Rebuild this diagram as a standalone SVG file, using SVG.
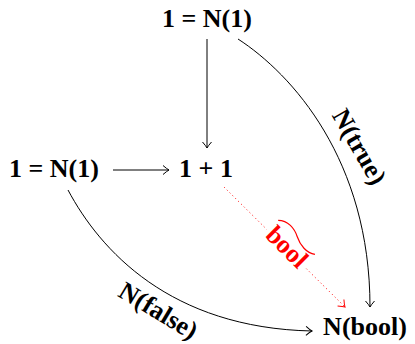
<svg xmlns="http://www.w3.org/2000/svg" width="415" height="344" viewBox="0 0 415 344">
<defs>
<style>
.t{font-family:"Liberation Serif","Times New Roman",serif;font-weight:bold;font-size:26px;fill:#000;text-anchor:middle}
.e{fill:none;stroke:#000;stroke-width:1}
.r{fill:none;stroke:#f00;stroke-width:1;stroke-dasharray:1 3}
</style>
<marker id="ah" viewBox="-8 -6 10 12" refX="0" refY="0" markerWidth="10" markerHeight="12" markerUnits="userSpaceOnUse" orient="auto">
<path d="M-6,-4.5 Q-2,-1 0,0 Q-2,1 -6,4.5" fill="none" stroke="#000" stroke-width="1"/>
</marker>
<marker id="ahr" viewBox="-8 -6 10 12" refX="0" refY="0" markerWidth="10" markerHeight="12" markerUnits="userSpaceOnUse" orient="auto">
<path d="M-6,-4.5 Q-2,-1 0,0 Q-2,1 -6,4.5" fill="none" stroke="#f00" stroke-width="1"/>
</marker>
</defs>
<rect width="415" height="344" fill="#fff"/>
<g id="connectors">
<path class="e" d="M207,39 L207,148" marker-end="url(#ah)"/>
<path class="e" d="M113,170 L169,170" marker-end="url(#ah)"/>
<path class="e" d="M238,39 C292,74 370,160 370,307" marker-end="url(#ah)"/>
<path class="e" d="M68,190 C100,250 170,328 312,331" marker-end="url(#ah)"/>
<path class="r" d="M224,187 L345,307" marker-end="url(#ahr)"/>
<g id="label-true" transform="translate(352,151) rotate(60)">
<text class="t" x="0" y="0">N(true)</text>
</g>
<g id="label-false" transform="translate(154,318) rotate(31)">
<text class="t" x="0" y="0">N(false)</text>
</g>
<g id="label-bool" transform="translate(281,253) rotate(45)">
<rect x="-27" y="-20" width="54" height="26" fill="#fff"/>
<text class="t" x="0" y="0" style="fill:#f00">bool</text>
<path d="M-25,-21 C-18,-28 -8,-27 0,-23 S18,-18 25,-23" fill="none" stroke="#f00" stroke-width="1.2"/>
</g>
</g>
<g id="n-top"><text class="t" x="207" y="27">1 = N(1)</text></g>
<g id="n-left"><text class="t" x="54" y="177">1 = N(1)</text></g>
<g id="n-mid"><text class="t" x="206" y="177">1 + 1</text></g>
<g id="n-bool"><text class="t" x="365" y="335">N(bool)</text></g>
</svg>
